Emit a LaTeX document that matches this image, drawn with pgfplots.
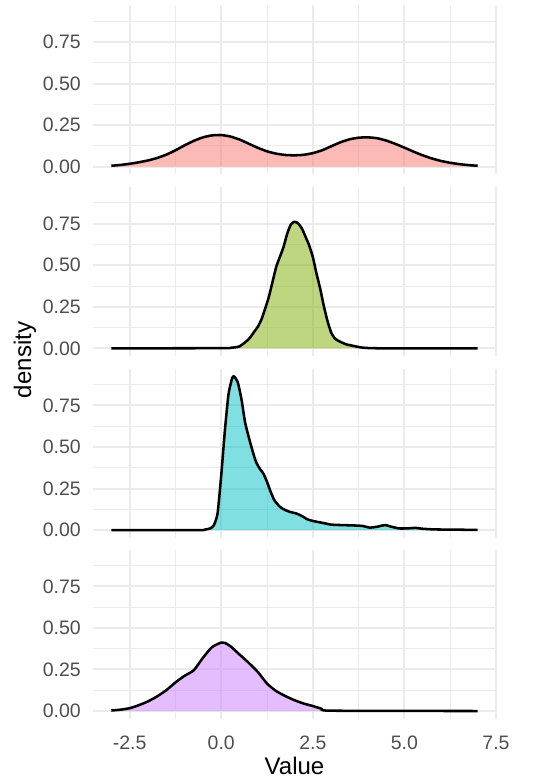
\documentclass[border=0pt]{standalone}
\usepackage{fontspec}
\setmainfont{Liberation Sans}
\usepackage{pgfplots}
\pgfplotsset{compat=1.18}
\usepackage{pgfplotstable}
\definecolor{c1}{HTML}{F8766D}
\definecolor{c2}{HTML}{7CAE00}
\definecolor{c3}{HTML}{00BFC4}
\definecolor{c4}{HTML}{C77CFF}
\definecolor{gridc}{HTML}{EBEBEB}
\definecolor{tickc}{HTML}{4D4D4D}

\pgfplotstableread{
x y
-3.0 0.005
-2.75 0.010
-2.5 0.017
-2.25 0.026
-2.0 0.037
-1.75 0.052
-1.5 0.072
-1.25 0.098
-1.0 0.128
-0.75 0.155
-0.5 0.176
-0.25 0.188
0.0 0.190
0.25 0.181
0.5 0.163
0.75 0.138
1.0 0.113
1.25 0.092
1.5 0.078
1.75 0.070
2.0 0.068
2.25 0.071
2.5 0.081
2.75 0.098
3.0 0.122
3.25 0.146
3.5 0.164
3.75 0.174
4.0 0.176
4.25 0.171
4.5 0.157
4.75 0.137
5.0 0.114
5.25 0.090
5.5 0.068
5.75 0.049
6.0 0.034
6.25 0.023
6.5 0.015
6.75 0.009
7.0 0.005
}\dA

\pgfplotstableread{
x y
-3 0
0 0.001
0.25 0.003
0.5 0.012
0.75 0.055
0.9 0.10
1.0 0.13
1.1 0.175
1.2 0.24
1.3 0.31
1.4 0.40
1.5 0.49
1.6 0.55
1.7 0.61
1.8 0.69
1.9 0.745
2.0 0.762
2.1 0.752
2.2 0.722
2.3 0.672
2.4 0.62
2.5 0.55
2.6 0.45
2.7 0.36
2.8 0.255
2.9 0.165
3.0 0.095
3.1 0.06
3.2 0.045
3.4 0.025
3.6 0.015
3.8 0.006
4.0 0.002
4.5 0
7 0
}\dB

\pgfplotstableread{
x y
-3 0
-0.6 0
-0.45 0.003
-0.3 0.01
-0.2 0.03
-0.1 0.10
0.0 0.33
0.1 0.60
0.2 0.82
0.3 0.915
0.35 0.925
0.45 0.89
0.55 0.79
0.65 0.65
0.75 0.56
0.85 0.48
0.95 0.41
1.05 0.37
1.15 0.34
1.25 0.29
1.35 0.23
1.45 0.18
1.6 0.14
1.75 0.12
1.9 0.108
2.05 0.10
2.2 0.085
2.35 0.065
2.5 0.055
2.75 0.044
3.0 0.033
3.3 0.03
3.6 0.028
3.85 0.025
4.05 0.015
4.25 0.02
4.47 0.03
4.65 0.02
4.85 0.01
5.05 0.01
5.3 0.013
5.5 0.008
5.8 0.004
6.2 0.003
6.6 0.002
7 0.001
}\dC

\pgfplotstableread{
x y
-3 0.003
-2.75 0.008
-2.5 0.017
-2.25 0.035
-2.0 0.058
-1.75 0.088
-1.5 0.125
-1.25 0.172
-1.0 0.212
-0.75 0.245
-0.5 0.32
-0.25 0.385
0.0 0.412
0.1 0.41
0.25 0.39
0.5 0.34
0.75 0.29
1.0 0.235
1.25 0.165
1.5 0.12
1.75 0.09
2.0 0.065
2.25 0.045
2.5 0.03
2.75 0.013
3.0 0.002
7 0
}\dD

\pgfplotsset{panel/.style={
  scale only axis, width=302.25pt, height=126.75pt,
  anchor=south west,
  xmin=-3.5, xmax=7.5, ymin=-0.046, ymax=0.971,
  xtick={-2.5,0,2.5,5,7.5}, minor xtick={-1.25,1.25,3.75,6.25},
  ytick={0,0.25,0.5,0.75}, minor ytick={0.125,0.375,0.625,0.875},
  grid=both,
  major grid style={gridc, line width=1.5pt},
  minor grid style={gridc, line width=0.75pt},
  axis line style={draw=none}, tick style={draw=none},
  major tick length=0pt, minor tick length=0pt,
  /pgf/number format/assume math mode=true,
  yticklabel style={font=\fontsize{14.6}{14.6}\selectfont, text=tickc, anchor=east, inner sep=0pt, xshift=-9pt,
    /pgf/number format/fixed, /pgf/number format/fixed zerofill, /pgf/number format/precision=2},
  xticklabel style={font=\fontsize{14.6}{14.6}\selectfont, text=tickc, anchor=north, inner sep=0pt, yshift=-13pt,
    /pgf/number format/fixed, /pgf/number format/fixed zerofill, /pgf/number format/precision=1},
}}

\begin{document}
\begin{tikzpicture}
\path[use as bounding box] (0,0) rectangle (407.25pt,585pt);

\begin{axis}[panel, at={(69.75pt,454.3pt)}, xticklabels={}]
\addplot[draw=none, fill=c1, fill opacity=0.5, smooth, tension=0.35] table[x=x,y=y]{\dA} \closedcycle;
\addplot[black, line width=1.9pt, line join=round, smooth, tension=0.35] table[x=x,y=y]{\dA};
\end{axis}

\begin{axis}[panel, at={(69.75pt,318pt)}, xticklabels={}]
\addplot[draw=none, fill=c2, fill opacity=0.5, smooth, tension=0.35] table[x=x,y=y]{\dB} \closedcycle;
\addplot[black, line width=1.9pt, line join=round, smooth, tension=0.35] table[x=x,y=y]{\dB};
\end{axis}

\begin{axis}[panel, at={(69.75pt,181.7pt)}, xticklabels={}]
\addplot[draw=none, fill=c3, fill opacity=0.5, smooth, tension=0.35] table[x=x,y=y]{\dC} \closedcycle;
\addplot[black, line width=1.9pt, line join=round, smooth, tension=0.35] table[x=x,y=y]{\dC};
\end{axis}

\begin{axis}[panel, at={(69.75pt,46pt)}]
\addplot[draw=none, fill=c4, fill opacity=0.5, smooth, tension=0.35] table[x=x,y=y]{\dD} \closedcycle;
\addplot[black, line width=1.9pt, line join=round, smooth, tension=0.35] table[x=x,y=y]{\dD};
\end{axis}

\node[rotate=90, anchor=center, font=\fontsize{18}{18}\selectfont] at (18.75pt,315pt) {density};
\node[anchor=base, font=\fontsize{18}{18}\selectfont] at (220.9pt,4.5pt) {Value};
\end{tikzpicture}
\end{document}
